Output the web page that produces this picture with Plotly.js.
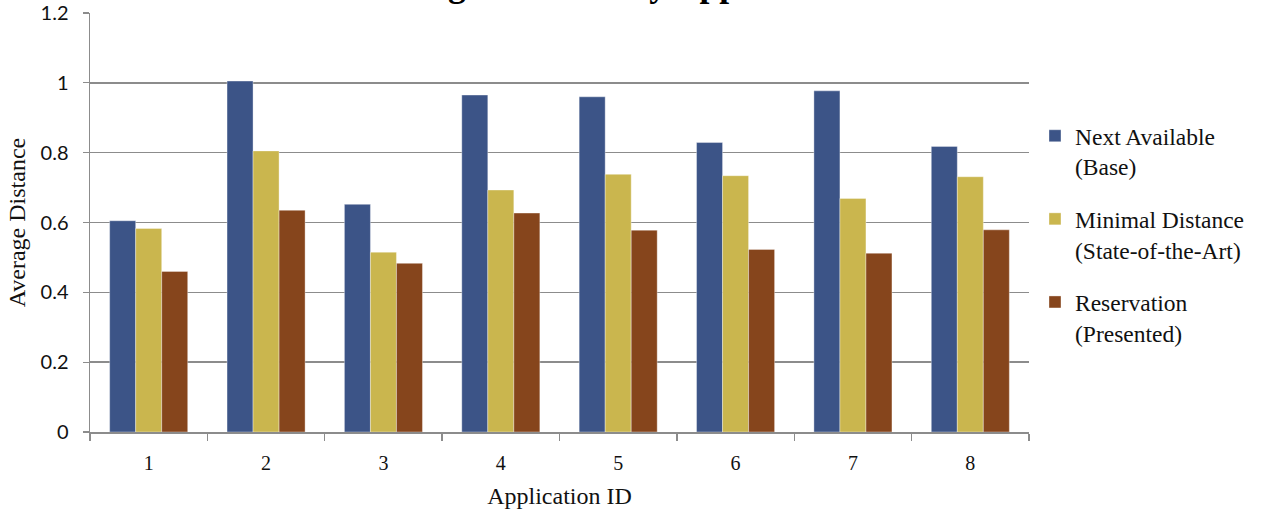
<!DOCTYPE html>
<html>
<head>
<meta charset="utf-8">
<script src="https://cdn.plot.ly/plotly-3.0.1.min.js"></script>
<style>html,body{margin:0;padding:0;background:#fff;}#chart{width:1261px;height:510px;}</style>
</head>
<body>
<div id="chart"></div>
<script>
const categories = ['1', '2', '3', '4', '5', '6', '7', '8'];
const nextAvailable = [0.605, 1.005, 0.652, 0.965, 0.960, 0.829, 0.977, 0.818];
const minimalDistance = [0.583, 0.805, 0.515, 0.693, 0.738, 0.734, 0.669, 0.731];
const reservation = [0.460, 0.635, 0.483, 0.627, 0.578, 0.523, 0.512, 0.579];
const seriesNames = ['Next Available<br>(Base)', 'Minimal Distance<br>(State-of-the-Art)', 'Reservation<br>(Presented)'];
const yTicks = [0, 0.2, 0.4, 0.6, 0.8, 1, 1.2];
const yTickText = ['0', '0.2', '0.4', '0.6', '0.8', '1', '1.2'];
const chartTitle = 'Average Distance by Application';

const colors = ['#3c5487', '#cab64e', '#86451c'];
const serif = '"Liberation Serif", "DejaVu Serif", serif';
const sans = 'Lato, "Open Sans", sans-serif';

const values = [nextAvailable, minimalDistance, reservation];
const traces = values.map((v, i) => ({
  type: 'bar',
  x: categories,
  y: v,
  name: seriesNames[i],
  legendgroup: 'g' + i,
  marker: {color: colors[i], line: {width: 0.6, color: 'rgba(255,255,255,0.6)'}},
  hoverinfo: 'x+y'
}));

const layout = {
  width: 1261,
  height: 510,
  margin: {l: 90, r: 231, t: 13, b: 78},
  paper_bgcolor: '#ffffff',
  plot_bgcolor: '#ffffff',
  barmode: 'group',
  bargap: 0.335,
  bargroupgap: 0,
  showlegend: true,
  legend: {
    x: 1.0053, xanchor: 'left',
    y: 0.759, yanchor: 'top',
    valign: 'top',
    font: {family: serif, size: 23.5, color: '#111'},
    tracegroupgap: 19,
    itemwidth: 30
  },
  xaxis: {
    type: 'category',
    tickson: 'boundaries',
    ticks: 'outside',
    ticklen: 7,
    tickwidth: 1.3,
    tickcolor: '#8c8c8c',
    showline: true,
    linecolor: '#8c8c8c',
    linewidth: 1.5,
    showgrid: false,
    tickfont: {family: serif, size: 20, color: '#111'},
    ticklabelstandoff: 12,
    title: {text: 'Application ID', font: {family: serif, size: 24, color: '#111'}, standoff: 14}
  },
  yaxis: {
    range: [0, 1.2],
    tickvals: yTicks,
    ticktext: yTickText,
    ticks: 'outside',
    ticklen: 6,
    tickwidth: 1.3,
    tickcolor: '#8c8c8c',
    showline: true,
    linecolor: '#8c8c8c',
    linewidth: 1.5,
    showgrid: true,
    gridcolor: '#8c8c8c',
    gridwidth: 1.5,
    zeroline: false,
    tickfont: {family: sans, size: 20, color: '#111'},
    ticklabelstandoff: 10,
    title: {text: 'Average Distance', font: {family: serif, size: 24, color: '#111'}, standoff: 8}
  },
  annotations: [{
    text: '<b>' + chartTitle + '</b>',
    xref: 'paper', yref: 'paper',
    x: 0.548, y: 1.016,
    xanchor: 'center', yanchor: 'bottom',
    showarrow: false,
    font: {family: serif, size: 35.5, color: '#000'}
  }]
};

Plotly.newPlot('chart', traces, layout, {displayModeBar: false, staticPlot: true});
</script>
</body>
</html>
